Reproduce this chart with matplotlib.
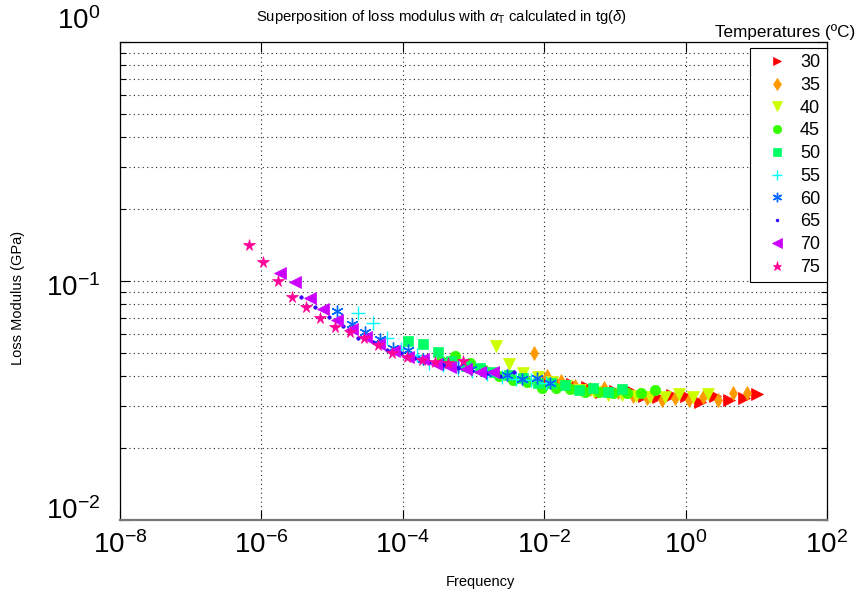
import numpy as np
import matplotlib
matplotlib.use("Agg")
import matplotlib.pyplot as plt
from matplotlib.ticker import LogLocator, FixedLocator, NullFormatter
from matplotlib.transforms import ScaledTranslation
from matplotlib import colors as mcolors

plt.rcParams['font.family'] = ['Liberation Sans', 'DejaVu Sans']
plt.rcParams['mathtext.fontset'] = 'custom'
plt.rcParams['mathtext.rm'] = 'Liberation Sans'
plt.rcParams['mathtext.it'] = 'Liberation Sans:italic'
plt.rcParams['mathtext.bf'] = 'Liberation Sans:bold'

temperatures = [30, 35, 40, 45, 50, 55, 60, 65, 70, 75]

freq_30 = [9.3e-3, 1.52e-2, 2.47e-2, 4.03e-2, 6.35e-2, 0.1, 0.158, 0.258, 0.41, 0.64, 1.01, 1.6, 2.6, 4.1, 6.7, 10.2]
loss_30 = [0.0385, 0.0378, 0.0371, 0.036, 0.0343, 0.0347, 0.035, 0.033, 0.0327, 0.0334, 0.033, 0.0312, 0.033, 0.0318, 0.0324, 0.0337]

freq_35 = [7.2e-3, 1.1e-2, 1.73e-2, 2.73e-2, 4.45e-2, 7.0e-2, 0.111, 0.18, 0.284, 0.463, 0.71, 1.12, 1.76, 2.87, 4.7, 7.4]
loss_35 = [0.050, 0.0401, 0.0382, 0.0364, 0.0353, 0.0357, 0.0343, 0.033, 0.0324, 0.0318, 0.0324, 0.0318, 0.0327, 0.0318, 0.034, 0.034]

freq_40 = [2.08e-3, 3.18e-3, 5.0e-3, 8.2e-3, 1.29e-2, 2.03e-2, 3.2e-2, 5.06e-2, 8.0e-2, 0.126, 0.199, 0.313, 0.51, 0.81, 1.27, 2.07]
loss_40 = [0.0535, 0.045, 0.0412, 0.0397, 0.0378, 0.0364, 0.035, 0.0343, 0.0334, 0.0334, 0.033, 0.0327, 0.0327, 0.0337, 0.0327, 0.0337]

freq_45 = [3.47e-4, 5.5e-4, 8.9e-4, 1.41e-3, 2.3e-3, 3.6e-3, 5.7e-3, 9.3e-3, 1.47e-2, 2.3e-2, 3.8e-2, 6.0e-2, 9.4e-2, 0.148, 0.234, 0.369]
loss_45 = [0.0463, 0.0486, 0.0454, 0.0424, 0.0401, 0.0385, 0.0378, 0.0357, 0.0357, 0.0353, 0.0343, 0.0343, 0.034, 0.034, 0.034, 0.035]

freq_50 = [1.2e-4, 1.9e-4, 3.1e-4, 4.8e-4, 7.8e-4, 1.24e-3, 1.95e-3, 3.2e-3, 5.0e-3, 8.2e-3, 1.25e-2, 1.97e-2, 3.1e-2, 4.9e-2, 8.0e-2, 0.126]
loss_50 = [0.0563, 0.0545, 0.0504, 0.0463, 0.0441, 0.0432, 0.0416, 0.0404, 0.0393, 0.0374, 0.0374, 0.0367, 0.035, 0.0357, 0.0343, 0.0353]

freq_55 = [2.35e-5, 3.75e-5, 5.9e-5, 9.3e-5, 1.57e-4, 2.37e-4, 3.7e-4, 6.0e-4, 9.5e-4, 1.55e-3, 2.53e-3, 4.0e-3, 6.5e-3, 1.05e-2]
loss_55 = [0.0737, 0.0669, 0.0579, 0.0518, 0.049, 0.0453, 0.0445, 0.0432, 0.042, 0.0408, 0.0397, 0.0389, 0.0385, 0.0376]

freq_60 = [1.16e-5, 1.9e-5, 2.9e-5, 4.8e-5, 7.3e-5, 1.2e-4, 1.9e-4, 3.7e-4, 6.0e-4, 9.1e-4, 1.5e-3, 2.95e-3, 4.8e-3, 7.8e-3, 1.2e-2]
loss_60 = [0.0749, 0.066, 0.0614, 0.057, 0.0526, 0.0514, 0.047, 0.0448, 0.0436, 0.0427, 0.0413, 0.0404, 0.0388, 0.0392, 0.0376]

freq_65 = [3.6e-6, 5.7e-6, 9.1e-6, 1.44e-5, 2.35e-5, 3.75e-5, 5.9e-5, 9.3e-5, 1.49e-4, 2.37e-4, 3.74e-4, 6.1e-4, 9.4e-4, 1.54e-3, 2.37e-3, 3.74e-3]
loss_65 = [0.0857, 0.078, 0.0709, 0.065, 0.058, 0.0554, 0.0514, 0.0498, 0.0475, 0.0459, 0.0445, 0.0431, 0.0421, 0.0413, 0.040, 0.0418]

freq_70 = [1.83e-6, 3.0e-6, 4.8e-6, 7.5e-6, 1.19e-5, 1.9e-5, 3.0e-5, 4.66e-5, 7.5e-5, 1.2e-4, 1.9e-4, 2.95e-4, 4.66e-4, 7.8e-4, 1.24e-3, 1.9e-3]
loss_70 = [0.108, 0.0988, 0.0851, 0.0763, 0.0687, 0.063, 0.0581, 0.0545, 0.0511, 0.0482, 0.047, 0.045, 0.0435, 0.0427, 0.0415, 0.0415]

freq_75 = [6.7e-7, 1.06e-6, 1.7e-6, 2.7e-6, 4.3e-6, 6.7e-6, 1.1e-5, 1.8e-5, 2.8e-5, 4.4e-5, 7.0e-5, 1.13e-4, 1.85e-4, 2.85e-4, 4.4e-4, 7.0e-4]
loss_75 = [0.1415, 0.12, 0.100, 0.086, 0.078, 0.0703, 0.0644, 0.0614, 0.0576, 0.054, 0.0498, 0.0482, 0.0467, 0.0459, 0.0455, 0.0463]

series = [
    (freq_30, loss_30), (freq_35, loss_35), (freq_40, loss_40), (freq_45, loss_45),
    (freq_50, loss_50), (freq_55, loss_55), (freq_60, loss_60), (freq_65, loss_65),
    (freq_70, loss_70), (freq_75, loss_75),
]

x_ticks = [1e-8, 1e-6, 1e-4, 1e-2, 1e0, 1e2]
x_tick_labels = [r'$\mathregular{10^{-8}}$', r'$\mathregular{10^{-6}}$', r'$\mathregular{10^{-4}}$',
                 r'$\mathregular{10^{-2}}$', r'$\mathregular{10^{0}}$', r'$\mathregular{10^{2}}$']
y_ticks = [1e-2, 1e-1, 1e0]
y_tick_labels = [r'$\mathregular{10^{-2}}$', r'$\mathregular{10^{-1}}$', r'$\mathregular{10^{0}}$']

# marker shape and size per temperature (hsv colour cycle, one hue step per curve)
asterisk = (6, 2, 0)
markers = ['>', 'd', 'v', 'o', 's', '+', asterisk, '.', '<', '*']
sizes = [8, 7.5, 8.5, 7.5, 7.5, 9.5, 8.5, 5, 9, 8.5]
colors = [mcolors.hsv_to_rgb((h / 10.0, 1.0, 1.0)) for h in range(10)]

fig = plt.figure(figsize=(8.61, 5.97), dpi=100)
ax = fig.add_axes([120 / 861, 1 - 520 / 597, 707 / 861, 478 / 597])

for (f, g), t, m, s, c in zip(series, temperatures, markers, sizes, colors):
    ax.plot(f, g, linestyle='none', marker=m, markersize=s, color=c,
            markerfacecolor=c, markeredgecolor=c,
            markeredgewidth=1.0 if m in ('+', asterisk) else 0.5,
            label=str(t))

ax.set_xscale('log')
ax.set_yscale('log')
ax.set_xlim(1e-8, 1e2)
ax.set_ylim(1e-2, 1e0)

ax.xaxis.set_major_locator(FixedLocator(x_ticks))
ax.xaxis.set_minor_locator(FixedLocator([]))
ax.set_xticklabels(x_tick_labels)
ax.yaxis.set_major_locator(FixedLocator(y_ticks))
ax.yaxis.set_minor_locator(LogLocator(base=10, subs=np.arange(2, 10), numticks=20))
ax.yaxis.set_minor_formatter(NullFormatter())
ax.set_yticklabels([])

ax.tick_params(axis='both', which='major', direction='in', length=7, width=0.8,
               labelsize=20, top=True, right=True)
ax.tick_params(axis='x', which='major', pad=8)
ax.tick_params(axis='y', which='minor', direction='in', length=4, width=0.8,
               right=True, left=True)

# y tick labels, each nudged vertically (pixels, downward positive)
y_label_nudge = [-8.5, 7, -20.5]
for v, lab, dy in zip(y_ticks, y_tick_labels, y_label_nudge):
    ax.text(0, v, lab, fontsize=20, ha='right', va='center', clip_on=False,
            transform=ax.get_yaxis_transform()
            + ScaledTranslation(-0.20, -dy / 100, fig.dpi_scale_trans))

ax.grid(True, which='major', axis='both', linestyle=(0, (1, 3)), color='#222222', linewidth=0.8)
ax.grid(True, which='minor', axis='y', linestyle=(0, (1, 3)), color='#222222', linewidth=0.8)
for sp in ax.spines.values():
    sp.set_linewidth(0.9)
    sp.set_color('black')
ax.spines['bottom'].set_color('#777777')
ax.spines['bottom'].set_linewidth(1.6)

fig.text(480 / 861, 1 - 582 / 597, 'Frequency', fontsize=10.5, ha='center', va='center')
fig.text(18 / 861, 1 - 298 / 597, 'Loss Modulus (GPa)', fontsize=10.5, ha='center',
         va='center', rotation=90)
fig.text(442 / 861, 1 - 17 / 597,
         r'Superposition of loss modulus with $\alpha_{\mathregular{T}}$ calculated in tg($\delta$)',
         fontsize=10.7, ha='center', va='center')

leg = ax.legend(loc='upper right', bbox_to_anchor=(0.9995, 0.988), borderaxespad=0,
                fontsize=13, frameon=True, fancybox=False, edgecolor='black', framealpha=1,
                handlelength=2.3, handletextpad=0.15, labelspacing=0.32,
                borderpad=0.35, markerscale=0.8, numpoints=1)
leg.get_frame().set_linewidth(0.8)
fig.text(855 / 861, 1 - 32 / 597, 'Temperatures (ºC)', fontsize=12.3,
         ha='right', va='center')

fig.savefig('out.png', dpi=100)
